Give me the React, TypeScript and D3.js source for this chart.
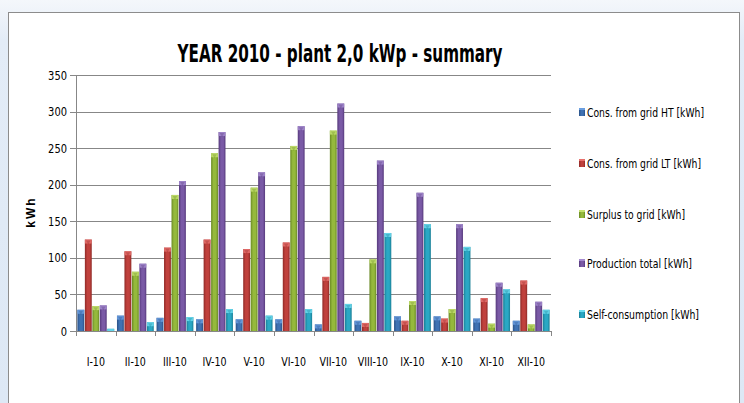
import React, { useEffect, useRef } from 'react';
import * as d3 from 'd3';

const months = ['I-10', 'II-10', 'III-10', 'IV-10', 'V-10', 'VI-10', 'VII-10', 'VIII-10', 'IX-10', 'X-10', 'XI-10', 'XII-10'];
const seriesNames = [
    'Cons. from grid HT [kWh]',
    'Cons. from grid LT [kWh]',
    'Surplus to grid [kWh]',
    'Production total  [kWh]',
    'Self-consumption [kWh]',
];
const legendWidths = [117, 114, 98, 105, 112];
const consHT = [29, 21, 18, 16, 16, 16, 9, 14, 20, 20, 17, 14];
const consLT = [125, 109, 114, 125, 112, 121, 74, 11, 14, 17, 45, 69];
const surplus = [34, 81, 186, 243, 196, 253, 274, 98, 41, 30, 10, 9];
const production = [35, 92, 205, 272, 217, 280, 311, 233, 189, 146, 66, 40];
const selfCons = [3, 12, 19, 30, 21, 30, 37, 134, 146, 115, 57, 29];
const yTicks = [0, 50, 100, 150, 200, 250, 300, 350];

const seriesValues = [consHT, consLT, surplus, production, selfCons];
const colors = [
    { base: '#3f72b3', light: '#6a9ee0', dark: '#2a5187' },
    { base: '#c0413d', light: '#e8716d', dark: '#8f2a27' },
    { base: '#95b93c', light: '#c4e06e', dark: '#6a8a25' },
    { base: '#7a5aa6', light: '#a58bd0', dark: '#56397c' },
    { base: '#2aa8c4', light: '#6cdcf0', dark: '#1a7f96' },
];

const FONT = "'Liberation Sans Narrow', 'DejaVu Sans Condensed', 'Liberation Sans', sans-serif";

const App = () => {
    const ref = useRef(null);

    useEffect(() => {
        const svg = d3.select(ref.current);
        svg.selectAll('*').remove();

        const left = 76, right = 551, top = 75, bottom = 331;

        const x = d3.scaleBand().domain(months).range([left, right]).paddingInner(0.055).paddingOuter(0.0275);
        const xs = d3.scaleBand().domain(d3.range(5).map(String)).range([0, x.bandwidth()]);
        const y = d3.scaleLinear().domain([0, 350]).range([bottom, top]);

        // page background
        const defs = svg.append('defs');
        const bg = defs.append('linearGradient').attr('id', 'bg').attr('x1', 0).attr('y1', 0).attr('x2', 0).attr('y2', 1);
        bg.append('stop').attr('offset', '0%').attr('stop-color', '#f4f7fb');
        bg.append('stop').attr('offset', '10%').attr('stop-color', '#e3ecf7');
        bg.append('stop').attr('offset', '100%').attr('stop-color', '#dde8f5');
        svg.append('rect').attr('width', 744).attr('height', 403).attr('fill', 'url(#bg)');

        colors.forEach((c, i) => {
            const g = defs.append('linearGradient').attr('id', `bar${i}`).attr('x1', 0).attr('y1', 0).attr('x2', 1).attr('y2', 0);
            g.append('stop').attr('offset', '0%').attr('stop-color', c.dark);
            g.append('stop').attr('offset', '35%').attr('stop-color', c.base);
            g.append('stop').attr('offset', '70%').attr('stop-color', c.base);
            g.append('stop').attr('offset', '100%').attr('stop-color', c.dark);
        });

        // chart box
        svg.append('rect')
            .attr('x', 8.5).attr('y', 12.5).attr('width', 731).attr('height', 400)
            .attr('fill', '#ffffff').attr('stroke', '#8c8c8c').attr('stroke-width', 1);

        // title
        svg.append('text')
            .attr('x', 340).attr('y', 62)
            .attr('text-anchor', 'middle')
            .attr('font-family', FONT).attr('font-weight', 'bold').attr('font-size', 24)
            .attr('textLength', 325).attr('lengthAdjust', 'spacingAndGlyphs')
            .text('YEAR 2010 - plant 2,0 kWp - summary');

        // grid + y axis
        const gy = svg.append('g');
        yTicks.forEach(t => {
            gy.append('line')
                .attr('x1', left - 6).attr('x2', right)
                .attr('y1', Math.round(y(t)) + 0.5).attr('y2', Math.round(y(t)) + 0.5)
                .attr('stroke', '#878787').attr('stroke-width', 1);
            gy.append('text')
                .attr('x', 67).attr('y', y(t) + 4.5)
                .attr('text-anchor', 'end')
                .attr('font-family', FONT).attr('font-size', 12)
                .attr('textLength', String(t).length * 6.3).attr('lengthAdjust', 'spacingAndGlyphs')
                .text(t);
        });
        gy.append('line')
            .attr('x1', left + 0.5).attr('x2', left + 0.5)
            .attr('y1', top).attr('y2', bottom + 5)
            .attr('stroke', '#878787');

        // x ticks + labels
        const step = x.step();
        d3.range(13).forEach(i => {
            const xx = Math.round(left + i * step) + 0.5;
            svg.append('line').attr('x1', xx).attr('x2', xx).attr('y1', bottom).attr('y2', bottom + 5).attr('stroke', '#878787');
        });
        months.forEach(m => {
            svg.append('text')
                .attr('x', (x(m) ?? 0) + x.bandwidth() / 2).attr('y', 366)
                .attr('text-anchor', 'middle')
                .attr('font-family', FONT).attr('font-size', 12)
                .attr('transform-origin', `${(x(m) ?? 0) + x.bandwidth() / 2} 366`)
                .attr('transform', 'scale(0.88,1)')
                .text(m);
        });

        // y label
        svg.append('text')
            .attr('transform', `translate(35,212) rotate(-90)`)
            .attr('text-anchor', 'middle')
            .attr('font-family', "'Liberation Sans', Arial, sans-serif").attr('font-weight', 'bold').attr('font-size', 12)
            .attr('letter-spacing', 2)
            .text('kWh');

        // bars
        const bw = xs.bandwidth();
        seriesValues.forEach((vals, si) => {
            const g = svg.append('g');
            vals.forEach((v, mi) => {
                const bx = (x(months[mi]) ?? 0) + (xs(String(si)) ?? 0);
                const by = y(v);
                const h = bottom - by;
                g.append('rect')
                    .attr('x', bx + 0.3).attr('y', by).attr('width', bw - 0.6).attr('height', h)
                    .attr('fill', `url(#bar${si})`);
                const capH = Math.min(4, h);
                g.append('rect')
                    .attr('x', bx + 0.3).attr('y', by).attr('width', bw - 0.6).attr('height', capH)
                    .attr('fill', colors[si].light).attr('opacity', 0.85);
                if (h > 3) {
                    g.append('path')
                        .attr('d', `M${bx + 1.5},${by + 1} L${bx + bw - 1.5},${by + 1} L${bx + bw / 2},${by + Math.min(5, h)} Z`)
                        .attr('fill', colors[si].dark).attr('opacity', 0.35);
                }
            });
        });

        // legend
        const legY = [112, 163, 214, 263, 314];
        seriesNames.forEach((name, i) => {
            svg.append('rect')
                .attr('x', 579).attr('y', legY[i] - 4).attr('width', 6).attr('height', 8)
                .attr('fill', `url(#bar${i})`);
            svg.append('rect')
                .attr('x', 579).attr('y', legY[i] - 4).attr('width', 6).attr('height', 2)
                .attr('fill', colors[i].light);
            svg.append('text')
                .attr('x', 587).attr('y', legY[i] + 4.5)
                .attr('font-family', FONT).attr('font-size', 13)
                .attr('textLength', legendWidths[i]).attr('lengthAdjust', 'spacingAndGlyphs')
                .text(name);
        });
    }, []);

    return (
        <svg
            ref={ref}
            width={744}
            height={403}
            style={{ position: 'absolute', left: 0, top: 0, display: 'block' }}
        />
    );
};

export default App;
